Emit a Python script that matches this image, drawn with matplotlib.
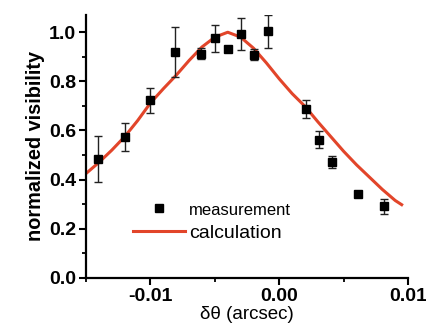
import matplotlib
matplotlib.use("Agg")
import matplotlib.pyplot as plt
from matplotlib.ticker import MultipleLocator

plt.rcParams['font.family'] = ['Liberation Sans', 'DejaVu Sans']

# measured points
meas_x = [-0.0141, -0.0120, -0.0100, -0.0081, -0.0061, -0.0050, -0.0040, -0.0030,
          -0.0020, -0.0009, 0.0021, 0.0031, 0.0041, 0.0061, 0.0081]
meas_y = [0.484, 0.573, 0.724, 0.920, 0.913, 0.975, 0.931, 0.992,
          0.908, 1.004, 0.688, 0.563, 0.472, 0.341, 0.291]
meas_err = [0.093, 0.056, 0.051, 0.103, 0.024, 0.055, 0.0, 0.065,
            0.022, 0.067, 0.038, 0.033, 0.025, 0.012, 0.032]

# calculated curve
calc_x = [-0.015, -0.014, -0.013, -0.012, -0.011, -0.010, -0.009, -0.008, -0.007,
          -0.006, -0.005, -0.004, -0.003, -0.002, -0.001, 0.000, 0.001, 0.002,
          0.003, 0.004, 0.005, 0.006, 0.007, 0.008, 0.009, 0.0095]
calc_y = [0.425, 0.470, 0.520, 0.575, 0.640, 0.712, 0.770, 0.825, 0.885,
          0.940, 0.980, 1.000, 0.980, 0.935, 0.875, 0.810, 0.750, 0.698,
          0.635, 0.575, 0.515, 0.460, 0.410, 0.360, 0.315, 0.298]

fig = plt.figure(figsize=(4.26, 3.34), dpi=100)
ax = fig.add_axes([0.202, 0.168, 0.756, 0.787])

line, = ax.plot(calc_x, calc_y, color='#e2452a', lw=2.2, zorder=2)
ax.errorbar(meas_x, meas_y, yerr=meas_err, fmt='s', color='black', ms=5.5,
            ecolor='#222222', elinewidth=1.0, capsize=3, capthick=1.0, zorder=3)
pts, = ax.plot([], [], 's', color='black', ms=5.5)

ax.set_xlim(-0.015, 0.01)
ax.set_ylim(0, 1.07)
ax.xaxis.set_major_locator(MultipleLocator(0.01))
ax.xaxis.set_minor_locator(MultipleLocator(0.005))
ax.yaxis.set_major_locator(MultipleLocator(0.2))
ax.yaxis.set_minor_locator(MultipleLocator(0.1))
ax.set_xticks([-0.01, 0.0, 0.01])
ax.set_xticklabels(['-0.01', '0.00', '0.01'])
ax.set_yticklabels(['%.1f' % v for v in ax.get_yticks()])

for s in ['top', 'right']:
    ax.spines[s].set_visible(False)
for s in ['left', 'bottom']:
    ax.spines[s].set_linewidth(1.6)
ax.tick_params(which='major', direction='out', length=5, width=1.5,
               labelsize=14, pad=2)
ax.tick_params(which='minor', direction='out', length=3, width=1.3)
for lab in ax.get_xticklabels() + ax.get_yticklabels():
    lab.set_fontweight('bold')

ax.set_ylabel('normalized visibility', fontsize=14.3, fontweight='bold', labelpad=3)
ax.set_xlabel('δθ (arcsec)', fontsize=13.5, labelpad=1)

leg = ax.legend([pts, line], ['measurement', 'calculation'], loc='lower left',
                bbox_to_anchor=(0.09, 0.07), frameon=False, fontsize=14,
                handlelength=2.7, handletextpad=0.2, labelspacing=0.35)
leg.get_texts()[0].set_fontsize(12)

fig.savefig('out.png', dpi=100)
